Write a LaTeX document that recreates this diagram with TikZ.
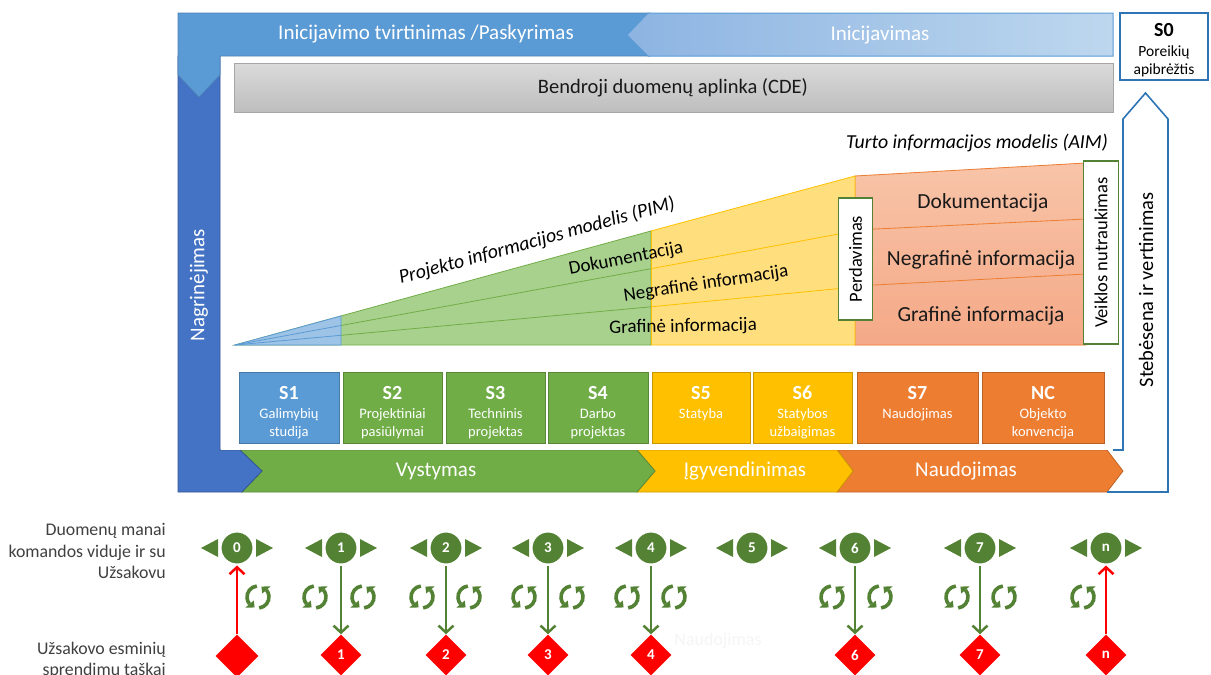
\documentclass[tikz,border=0pt]{standalone}
\usepackage{fontspec}
\setmainfont{Carlito}
\usetikzlibrary{shapes.geometric,arrows.meta}
\definecolor{bMed}{HTML}{5B9BD5}
\definecolor{bDark}{HTML}{4472C4}
\definecolor{bLine}{HTML}{2E75B6}
\definecolor{bLightA}{HTML}{8DB4E2}
\definecolor{bLightB}{HTML}{BDD7EE}
\definecolor{gMain}{HTML}{70AD47}
\definecolor{gDark}{HTML}{548235}
\definecolor{yMain}{HTML}{FFC000}
\definecolor{oMain}{HTML}{ED7D31}
\definecolor{wBlue}{HTML}{9DC3E6}
\definecolor{wGreen}{HTML}{A9D18E}
\definecolor{wYellow}{HTML}{FFD966}
\definecolor{wOrangeA}{HTML}{F8C4A8}
\definecolor{wOrangeB}{HTML}{F4A987}
\definecolor{txtGray}{HTML}{404040}
\definecolor{cdeA}{HTML}{DADADA}
\definecolor{cdeB}{HTML}{BEBEBE}
\newcommand{\fsz}[1]{\fontsize{#1}{#1}\selectfont}
\tikzset{
  wlbl/.style={inner sep=0pt, font=\fsz{21}, text=white},
  blbl/.style={inner sep=0pt, font=\fsz{20.5}, text=black},
  olbl/.style={inner sep=0pt, font=\fsz{21.5}, text=black!90},
  vbox/.style={draw=gDark, line width=1.5pt, fill=white, inner sep=0pt},
  stagebox/.style={rectangle, inner sep=0pt, line width=1pt},
  stitle/.style={inner sep=0pt, anchor=base, font=\bfseries\fsz{20}, text=white},
  ssub/.style={inner sep=0pt, anchor=base, font=\fsz{14.5}, text=white},
  dm/.style={circle, fill=gDark, draw=white, line width=2pt, minimum size=33pt, inner sep=0pt, text=white, font=\bfseries\fsz{15}},
  dia/.style={diamond, fill=red, inner sep=0pt, minimum width=41pt, minimum height=41pt, text=white, font=\bfseries\fsz{15}},
  garrow/.style={draw=gDark, line width=2.5pt, -{Straight Barb[length=7pt,width=15pt]}},
  rarrow/.style={draw=red, line width=2.5pt, -{Straight Barb[length=7pt,width=15pt]}},
  sidetxt/.style={inner sep=0pt, font=\fsz{17.8}, text=txtGray, align=right},
  cyc/.pic={
    \draw[gDark, line width=3.6pt] (264:11) arc[start angle=264, end angle=140, radius=11];
    \fill[gDark] (140:16.5) -- (140:5.5) -- (108:11) -- cycle;
    \draw[gDark, line width=3.6pt] (84:11) arc[start angle=84, end angle=-40, radius=11];
    \fill[gDark] (-40:16.5) -- (-40:5.5) -- (-72:11) -- cycle;
  }
}
\begin{document}
\begin{tikzpicture}[x=1pt,y=-1pt]
\useasboundingbox (0,0) rectangle (1211,675);
\clip (0,0) rectangle (1211,675);
\fill[white] (0,0) rectangle (1211,675);

% bottom bands
\filldraw[fill=oMain, draw=oMain!80!black, line width=0.8pt] (837,450) -- (1107,450) -- (1123,471) -- (1107,492) -- (837,492) -- (853,471) -- cycle;
\filldraw[fill=yMain, draw=yMain!80!black, line width=0.8pt] (637,450) -- (837,450) -- (853,471) -- (837,492) -- (637,492) -- (655,471) -- cycle;
\filldraw[fill=gMain, draw=gMain!80!black, line width=0.8pt] (240,450) -- (637,450) -- (655,471) -- (637,492) -- (242,492) -- (262,471) -- cycle;
\node[wlbl] (vyst) at (436,471) {Vystymas};
\node[wlbl] (igyv) at (745,471) {Įgyvendinimas};
\node[wlbl] (naud) at (966,471) {Naudojimas};

% left dark column
\filldraw[fill=bDark, draw=bDark!75!black, line width=0.8pt] (178,56) -- (220,56) -- (220,450) -- (240,450) -- (262,471) -- (242,492) -- (178,492) -- cycle;
% top-left L
\filldraw[fill=bMed, draw=bMed!85!black, line width=0.6pt] (178,13) -- (650,13) -- (650,56) -- (220,56) -- (220,75) -- (199,97) -- (178,75) -- cycle;
% white inner area
\fill[white] (220.5,56.5) rectangle (1113,449.5);
% Inicijavimas chevron
\shadedraw[left color=bLightA, right color=bLightB, draw=bMed, line width=1pt] (627,35) -- (648,13) -- (1113,13) -- (1113,56) -- (648,56) -- cycle;
\node[wlbl] (itv) at (426,34) {Inicijavimo tvirtinimas /Paskyrimas};
\node[wlbl] (inic) at (880,35) {Inicijavimas};
\node[wlbl, rotate=90] (nagr) at (199,285) {Nagrinėjimas};

% Stebesena outline
\draw[bLine, line width=1.6pt, line join=miter] (1113,450) -- (1123,450) -- (1123,119) -- (1145.5,93) -- (1168,119) -- (1168,492) -- (1107,492);
\node[blbl, rotate=90] (steb) at (1146,290) {Stebėsena ir vertinimas};

% S0
\node[draw=bLine, line width=1.6pt, fill=white, minimum width=88pt, minimum height=67pt, inner sep=0pt] (s0) at (1164,46.5) {};
\node[inner sep=0pt, font=\bfseries\fsz{20}] (s0t) at (1164,30) {S0};
\node[inner sep=0pt, font=\fsz{15.5}] (s0a) at (1164,52) {Poreikių};
\node[inner sep=0pt, font=\fsz{15.5}] (s0b) at (1164,70) {apibrėžtis};

% CDE
\shadedraw[top color=cdeA, bottom color=cdeB, draw=black!35, line width=1pt] (234,63) rectangle (1113,112);
\node[blbl, text=black!90] (cde) at (673,88) {Bendroji duomenų aplinka (CDE)};

% wedges
\filldraw[fill=wOrangeB, draw=oMain, line width=0.8pt, top color=wOrangeA, bottom color=wOrangeB] (855,176) -- (1086,163) -- (1086,345) -- (855,345) -- cycle;
\draw[oMain, line width=0.8pt] (855,230) -- (1086,219);
\draw[oMain, line width=0.8pt] (855,286) -- (1086,274);
\filldraw[fill=wYellow!85!white, draw=yMain, line width=0.8pt] (651,231) -- (855,176) -- (855,345) -- (651,345) -- cycle;
\draw[yMain, line width=0.8pt] (651,268.7) -- (855,231);
\draw[yMain, line width=0.8pt] (651,306.8) -- (855,287);
\filldraw[fill=wGreen, draw=gMain, line width=0.8pt] (235,345) -- (651,231) -- (651,345) -- cycle;
\filldraw[fill=wBlue, draw=bMed, line width=0.8pt] (235,345) -- (341,316) -- (341,345) -- cycle;
\draw[gMain, line width=0.8pt] (341,325.5) -- (651,268.7);
\draw[gMain, line width=0.8pt] (341,335.3) -- (651,306.8);
\draw[bMed, line width=0.8pt] (235,345) -- (341,325.5);
\draw[bMed, line width=0.8pt] (235,345) -- (341,335.3);
\draw[yMain, line width=0.8pt] (651,231) -- (651,345);

\node[inner sep=0pt, font=\itshape\fsz{19.8}, rotate=15.3] (pim) at (537,241) {Projekto informacijos modelis (PIM)};
\node[inner sep=0pt, font=\fsz{19}, rotate=11] (pdok) at (626,259) {Dokumentacija};
\node[inner sep=0pt, font=\fsz{19}, rotate=8.5] (pneg) at (706,284) {Negrafinė informacija};
\node[inner sep=0pt, font=\fsz{19}, rotate=1] (pgra) at (683,327) {Grafinė informacija};

\node[olbl] (adok) at (983,203) {Dokumentacija};
\node[olbl] (aneg) at (981,260) {Negrafinė informacija};
\node[olbl] (agra) at (981,316) {Grafinė informacija};
\node[inner sep=0pt, font=\itshape\fsz{19.8}] (aim) at (977,143) {Turto informacijos modelis (AIM)};

\node[vbox, minimum width=34pt, minimum height=122pt] (perd) at (855.5,259) {};
\node[inner sep=0pt, font=\fsz{18.5}, rotate=90] (perdt) at (perd.center) {Perdavimas};
\node[vbox, minimum width=35pt, minimum height=183pt] (veik) at (1101,252.5) {};
\node[inner sep=0pt, font=\fsz{18.5}, rotate=90] (veikt) at (veik.center) {Veiklos nutraukimas};

% stage boxes
\foreach \n/\xa/\xb/\fc/\tt/\la/\lb in {
  1/239/339/bMed/S1/Galimybių/studija,
  2/343/442/gMain/S2/Projektiniai/pasiūlymai,
  3/446/545/gMain/S3/Techninis/projektas,
  4/548/648/gMain/S4/Darbo/projektas,
  5/652/750/yMain/S5/Statyba/,
  6/753/852/yMain/S6/Statybos/užbaigimas,
  7/857/978/oMain/S7/Naudojimas/,
  8/982/1104/oMain/NC/Objekto/konvencija}{
  \node[stagebox, fill=\fc, draw=\fc!78!black, minimum width={\xb-\xa}, minimum height=71pt] (st\n) at ({(\xa+\xb)/2},407.5) {};
  \node[stitle] (st\n t) at ({(\xa+\xb)/2},399) {\tt};
  \node[ssub] (st\n a) at ({(\xa+\xb)/2},418.5) {\la};
  \node[ssub] (st\n b) at ({(\xa+\xb)/2},436) {\lb};
}

% bottom section
\node[sidetxt, anchor=east] (lab1) at (166,551) {Duomenų manai\\[3.5pt]komandos viduje ir su\\[3.5pt]Užsakovu};
\node[sidetxt, anchor=north east] (lab2) at (166,642) {Užsakovo esminių\\[3.5pt]sprendimų taškai};
\node[inner sep=0pt, font=\fsz{18}, text=black!4] (ghost) at (718,641) {Naudojimas};

\foreach \k/\x/\lab in {0/237/0, 1/341/1, 2/446/2, 3/548/3, 4/651/4, 5/752/5, 6/855/6, 7/980/7, n/1106/n}{
  \fill[gDark] (\x-36,548) -- (\x-19,539) -- (\x-19,557) -- cycle;
  \fill[gDark] (\x+36,548) -- (\x+19,539) -- (\x+19,557) -- cycle;
  \node[dm] (c\k) at (\x,548) {\lab};
}
\foreach \k/\x/\lab in {1/341/1, 2/446/2, 3/548/3, 4/651/4, 6/855/6, 7/980/7, n/1106/n}{
  \node[dia] (d\k) at (\x,655) {\lab};
}
\node[dia, minimum width=43pt, minimum height=43pt] (d0) at (237,656) {};

\foreach \k in {1,2,3,4,6,7}{
  \draw[garrow] (c\k) -- (d\k);
}
\draw[rarrow] (d0) -- (c0);
\draw[rarrow] (dn) -- (cn);

\foreach \x in {258,315,363,422,469,524,572,627,674,832,880,957,1004,1083}{
  \pic at (\x,597) {cyc};
}
\end{tikzpicture}
\end{document}
